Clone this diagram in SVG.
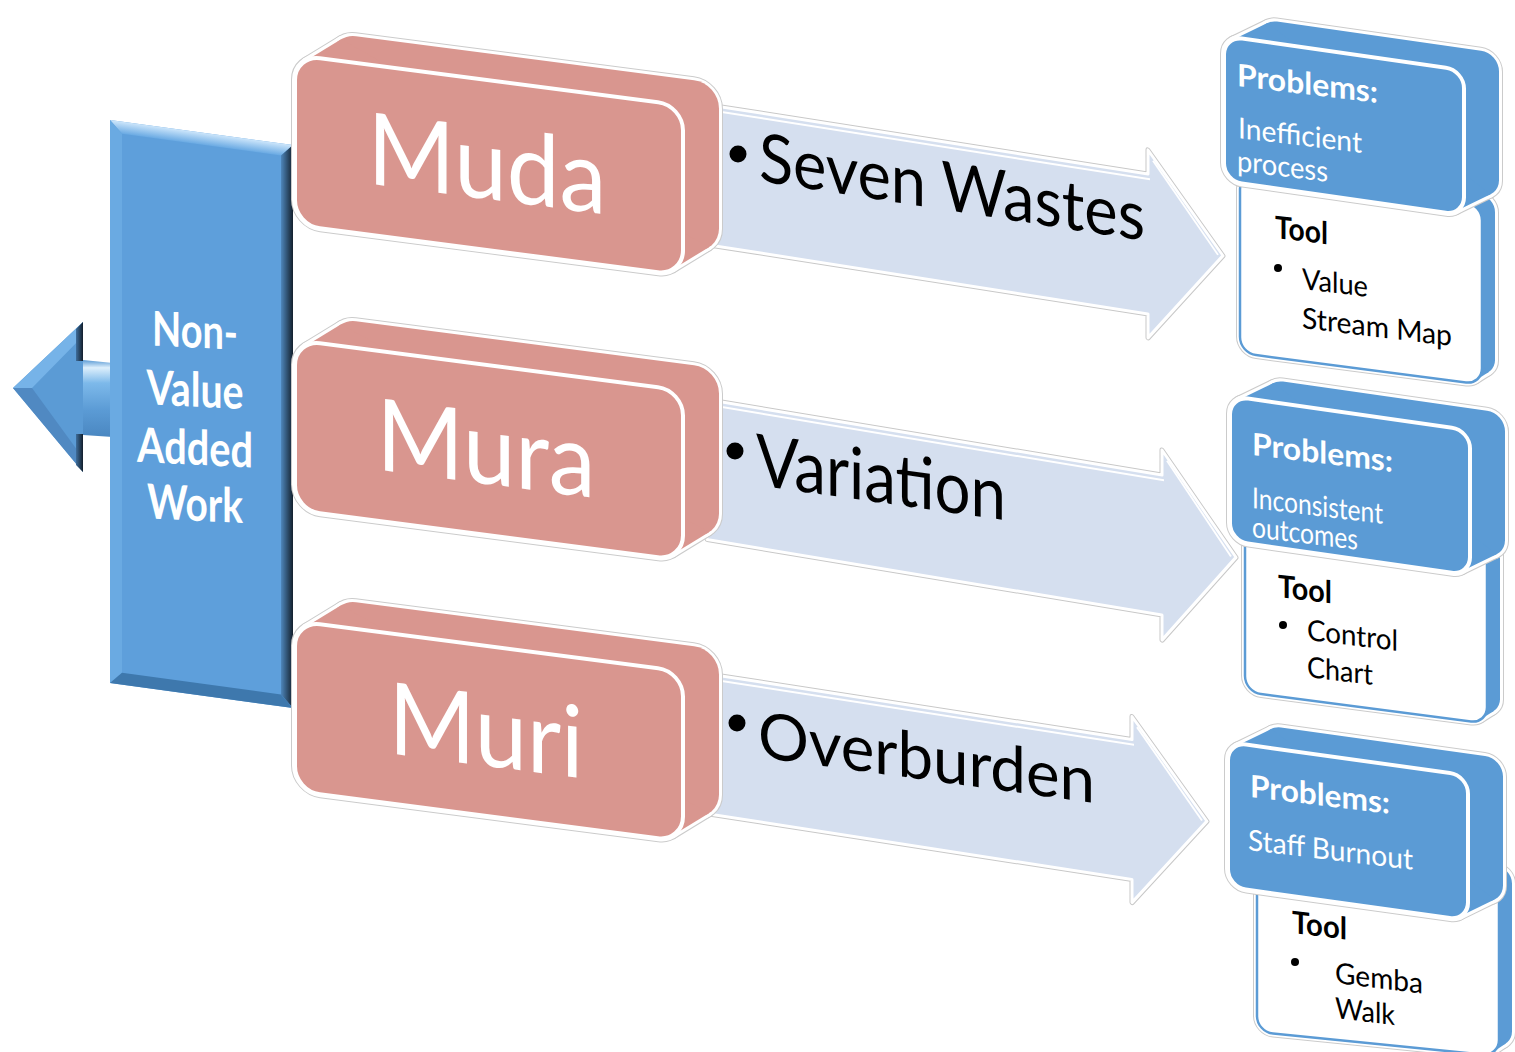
<svg xmlns="http://www.w3.org/2000/svg" width="1515" height="1052" viewBox="0 0 1515 1052">
<style>
  .halo-g{fill:none;stroke:#cbcbcb;stroke-width:8;stroke-linejoin:round}
  .halo-w{fill:none;stroke:#ffffff;stroke-width:6;stroke-linejoin:round}
  .pink{fill:#D9968F}
  .pink-face{fill:#D9968F;stroke:#ffffff;stroke-width:4}
  .blue{fill:#5B9BD5}
  .blue-face{fill:#5B9BD5;stroke:#ffffff;stroke-width:4}
  .tool-face{fill:#ffffff;stroke:#5B9BD5;stroke-width:2.5}
  .arw-g{fill:none;stroke:#c8c8c8;stroke-width:5;stroke-linejoin:round}
  .arw{fill:#D5DFEF;stroke:#ffffff;stroke-width:3;stroke-linejoin:round}
  .hl{fill:none;stroke:#ffffff;stroke-width:2}
  .big{font-family:Lato,"Liberation Sans",sans-serif;font-size:100px;fill:#ffffff}
  .side{font-family:Lato,"Liberation Sans",sans-serif;font-size:48px;font-weight:bold;fill:#ffffff}
  .flow{font-family:Lato,"Liberation Sans",sans-serif;fill:#000000}
  .ph{font-family:Lato,"Liberation Sans",sans-serif;font-size:31px;font-weight:bold;fill:#ffffff}
  .pt{font-family:Lato,"Liberation Sans",sans-serif;font-size:29px;fill:#ffffff}
  .th{font-family:Lato,"Liberation Sans",sans-serif;font-size:31px;font-weight:bold;fill:#000000}
  .tt{font-family:Lato,"Liberation Sans",sans-serif;font-size:29px;fill:#000000}
</style>
<defs>
  <linearGradient id="barTop" x1="0" y1="0" x2="0" y2="1">
    <stop offset="0" stop-color="#CDE6FB"/>
    <stop offset="1" stop-color="#6AAAE3"/>
  </linearGradient>
  <linearGradient id="barRight" x1="0" y1="0" x2="1" y2="0">
    <stop offset="0" stop-color="#4E86BB"/>
    <stop offset="1" stop-color="#13202D"/>
  </linearGradient>
  <linearGradient id="shaft" x1="0" y1="0" x2="0" y2="1">
    <stop offset="0" stop-color="#5B9BD5"/>
    <stop offset="0.1" stop-color="#DDEFFC"/>
    <stop offset="0.3" stop-color="#7DB9EA"/>
    <stop offset="0.65" stop-color="#5B9BD5"/>
    <stop offset="1" stop-color="#4A87C1"/>
  </linearGradient>
  <linearGradient id="headBack" x1="0" y1="0" x2="1" y2="0">
    <stop offset="0" stop-color="#3F6E9C"/>
    <stop offset="1" stop-color="#121E2B"/>
  </linearGradient>

  <!-- pink block: front face and its extrusion (local, skewed by the group) -->
  <g id="pkHull">
    <rect width="388" height="170" rx="25"/>
    <rect x="36" y="-26.7" width="388" height="170" rx="25"/>
    <polygon points="10.1,4.9 46.1,-21.8 413.9,138.4 377.9,165.1"/>
  </g>
  <rect id="pkFront" width="388" height="170" rx="25"/>

  <!-- blue problem box -->
  <g id="bxHull">
    <rect width="240" height="145" rx="18"/>
    <rect x="35" y="-22" width="240" height="145" rx="18"/>
    <polygon points="8.4,2.8 43.4,-19.2 266.6,120.2 231.6,142.2"/>
  </g>
  <rect id="bxFront" width="240" height="145" rx="18"/>

  <!-- white tool box behind each problem box -->
  <g id="tlHull">
    <rect width="242" height="180" rx="16"/>
    <rect x="13" y="-10" width="242" height="180" rx="16"/>
    <polygon points="6.2,3.4 19.2,-6.6 248.8,166.6 235.8,176.6"/>
  </g>
  <rect id="tlFront" width="242" height="180" rx="16"/>

  <!-- flow arrow outline shapes -->
  <polygon id="arrow1" points="-15,0 426,0 426,-24 501,70 426,164 426,140 -15,140"/>
  <polygon id="arrow2" points="-15,0 440,0 440,-25 514,70 440,165 440,140 -15,140"/>
  <polygon id="arrow3" points="-15,0 410,0 410,-23 485,70 410,163 410,140 -15,140"/>
</defs>

<rect width="1515" height="1052" fill="#ffffff"/>

<!-- Non-value added work bar with its left arrow -->
<g id="nva">
  <polygon points="13,388 83,322 83,472" fill="#5B9BD5"/>
  <polygon points="13,388 83,322 83,336 32,388" fill="#76B3E8"/>
  <polygon points="13,388 32,388 83,458 83,472" fill="#5089C2"/>
  <polygon points="76,329 83,322 83,361 76,361" fill="url(#headBack)"/>
  <polygon points="76,434 83,434 83,472 76,465" fill="url(#headBack)"/>
  <path d="M83,360 L113,363 C127,376 128,424 113,437 L83,435 Z" fill="url(#shaft)"/>
  <g transform="matrix(1,0.137,0,1,110,120)">
    <rect width="183" height="563" fill="#5E9FDB"/>
    <polygon points="0,0 183,0 171,12 12,12" fill="url(#barTop)"/>
    <polygon points="0,0 12,12 12,551 0,563" fill="#6AAAE2"/>
    <polygon points="183,0 183,563 171,551 171,12" fill="url(#barRight)"/>
    <polygon points="0,563 12,551 171,551 183,563" fill="#3E78AD"/>
  </g>
  <g transform="matrix(1,0.05,0,1,0,0)">
    <text class="side" x="195" y="338" text-anchor="middle" textLength="86" lengthAdjust="spacingAndGlyphs">Non-</text>
    <text class="side" x="195" y="397" text-anchor="middle" textLength="97" lengthAdjust="spacingAndGlyphs">Value</text>
    <text class="side" x="195" y="455" text-anchor="middle" textLength="116" lengthAdjust="spacingAndGlyphs">Added</text>
    <text class="side" x="195" y="511" text-anchor="middle" textLength="96" lengthAdjust="spacingAndGlyphs">Work</text>
  </g>
</g>

<!-- flow arrows from each category to its problem box -->
<g id="connectors">
  <g transform="matrix(1,0.157,0,1,722,107)">
    <use href="#arrow1" class="arw-g"/>
    <use href="#arrow1" class="arw"/>
    <polyline class="hl" points="-15,5 428,5"/>
    <polyline class="hl" points="431,-14 496,70"/>
  </g>
  <g transform="matrix(1,0.166,0,1,722,402)">
    <use href="#arrow2" class="arw-g"/>
    <use href="#arrow2" class="arw"/>
    <polyline class="hl" points="-15,5 442,5"/>
    <polyline class="hl" points="445,-15 509,70"/>
  </g>
  <g transform="matrix(1,0.155,0,1,722,676)">
    <use href="#arrow3" class="arw-g"/>
    <use href="#arrow3" class="arw"/>
    <polyline class="hl" points="-15,5 412,5"/>
    <polyline class="hl" points="415,-13 480,70"/>
  </g>
  <circle cx="738" cy="154" r="8.5"/>
  <text class="flow" font-size="68" transform="matrix(1,0.155,0,1,759,181)" textLength="386" lengthAdjust="spacingAndGlyphs">Seven Wastes</text>
  <circle cx="735" cy="451" r="8.5"/>
  <text class="flow" font-size="72" transform="matrix(1,0.141,0,1,756,485)" textLength="250" lengthAdjust="spacingAndGlyphs">Variation</text>
  <circle cx="737" cy="723" r="8.5"/>
  <text class="flow" font-size="64" transform="matrix(1,0.137,0,1,758,757)" textLength="337" lengthAdjust="spacingAndGlyphs">Overburden</text>
</g>

<!-- category blocks -->
<g id="muda" transform="matrix(1,0.13,0,1,295,55)">
  <use href="#pkHull" class="halo-g"/>
  <use href="#pkHull" class="halo-w"/>
  <use href="#pkHull" class="pink"/>
  <use href="#pkFront" class="pink-face"/>
  <text class="big" x="192" y="119" text-anchor="middle" textLength="239" lengthAdjust="spacingAndGlyphs">Muda</text>
</g>
<g id="mura" transform="matrix(1,0.13,0,1,295,340)">
  <use href="#pkHull" class="halo-g"/>
  <use href="#pkHull" class="halo-w"/>
  <use href="#pkHull" class="pink"/>
  <use href="#pkFront" class="pink-face"/>
  <text class="big" x="191" y="119" text-anchor="middle" textLength="219" lengthAdjust="spacingAndGlyphs">Mura</text>
</g>
<g id="muri" transform="matrix(1,0.13,0,1,295,621)">
  <use href="#pkHull" class="halo-g"/>
  <use href="#pkHull" class="halo-w"/>
  <use href="#pkHull" class="pink"/>
  <use href="#pkFront" class="pink-face"/>
  <text class="big" x="191" y="120" text-anchor="middle" textLength="195" lengthAdjust="spacingAndGlyphs">Muri</text>
</g>

<!-- problem / tool boxes -->
<g id="problem-muda">
  <g transform="matrix(1,0.13,0,1,1240,173)">
    <use href="#tlHull" class="halo-g"/>
    <use href="#tlHull" class="halo-w"/>
    <use href="#tlHull" class="blue"/>
    <use href="#tlFront" class="tool-face"/>
  </g>
  <g transform="matrix(1,0.143,0,1,1224,36)">
    <use href="#bxHull" class="halo-g"/>
    <use href="#bxHull" class="halo-w"/>
    <use href="#bxHull" class="blue"/>
    <use href="#bxFront" class="blue-face"/>
  </g>
  <text class="ph" transform="matrix(1,0.12,0,1,1237,86)" textLength="141" lengthAdjust="spacingAndGlyphs">Problems:</text>
  <text class="pt" transform="matrix(1,0.12,0,1,1238,138)" textLength="124" lengthAdjust="spacingAndGlyphs">Inefficient</text>
  <text class="pt" transform="matrix(1,0.12,0,1,1237,171)" textLength="91" lengthAdjust="spacingAndGlyphs">process</text>
  <text class="th" transform="matrix(1,0.12,0,1,1275,238)" textLength="53" lengthAdjust="spacingAndGlyphs">Tool</text>
  <circle cx="1278" cy="268" r="4"/>
  <text class="tt" transform="matrix(1,0.12,0,1,1302,289)" textLength="66" lengthAdjust="spacingAndGlyphs">Value</text>
  <text class="tt" transform="matrix(1,0.12,0,1,1302,328)" textLength="150" lengthAdjust="spacingAndGlyphs">Stream Map</text>
</g>

<g id="problem-mura">
  <g transform="matrix(1,0.13,0,1,1245,512)">
    <use href="#tlHull" class="halo-g"/>
    <use href="#tlHull" class="halo-w"/>
    <use href="#tlHull" class="blue"/>
    <use href="#tlFront" class="tool-face"/>
  </g>
  <g transform="matrix(1,0.143,0,1,1230,396)">
    <use href="#bxHull" class="halo-g"/>
    <use href="#bxHull" class="halo-w"/>
    <use href="#bxHull" class="blue"/>
    <use href="#bxFront" class="blue-face"/>
  </g>
  <text class="ph" transform="matrix(1,0.12,0,1,1252,455)" textLength="141" lengthAdjust="spacingAndGlyphs">Problems:</text>
  <text class="pt" font-size="27" transform="matrix(1,0.12,0,1,1252,508)" textLength="131" lengthAdjust="spacingAndGlyphs">Inconsistent</text>
  <text class="pt" font-size="27" transform="matrix(1,0.12,0,1,1252,537)" textLength="106" lengthAdjust="spacingAndGlyphs">outcomes</text>
  <text class="th" transform="matrix(1,0.12,0,1,1278,597)" textLength="54" lengthAdjust="spacingAndGlyphs">Tool</text>
  <circle cx="1283" cy="625" r="4"/>
  <text class="tt" transform="matrix(1,0.12,0,1,1307,640)" textLength="91" lengthAdjust="spacingAndGlyphs">Control</text>
  <text class="tt" transform="matrix(1,0.12,0,1,1307,677)" textLength="66" lengthAdjust="spacingAndGlyphs">Chart</text>
</g>

<g id="problem-muri">
  <g transform="matrix(1,0.1,0,1,1257,852)">
    <use href="#tlHull" class="halo-g"/>
    <use href="#tlHull" class="halo-w"/>
    <use href="#tlHull" class="blue"/>
    <use href="#tlFront" class="tool-face"/>
  </g>
  <g transform="matrix(1,0.14,0,1,1228,742)">
    <use href="#bxHull" class="halo-g"/>
    <use href="#bxHull" class="halo-w"/>
    <use href="#bxHull" class="blue"/>
    <use href="#bxFront" class="blue-face"/>
  </g>
  <text class="ph" transform="matrix(1,0.12,0,1,1250,797)" textLength="140" lengthAdjust="spacingAndGlyphs">Problems:</text>
  <text class="pt" transform="matrix(1,0.12,0,1,1248,850)" textLength="165" lengthAdjust="spacingAndGlyphs">Staff Burnout</text>
  <text class="th" transform="matrix(1,0.12,0,1,1292,933)" textLength="55" lengthAdjust="spacingAndGlyphs">Tool</text>
  <circle cx="1295" cy="962" r="4"/>
  <text class="tt" transform="matrix(1,0.12,0,1,1335,983)" textLength="88" lengthAdjust="spacingAndGlyphs">Gemba</text>
  <text class="tt" transform="matrix(1,0.12,0,1,1335,1018)" textLength="60" lengthAdjust="spacingAndGlyphs">Walk</text>
</g>
</svg>
